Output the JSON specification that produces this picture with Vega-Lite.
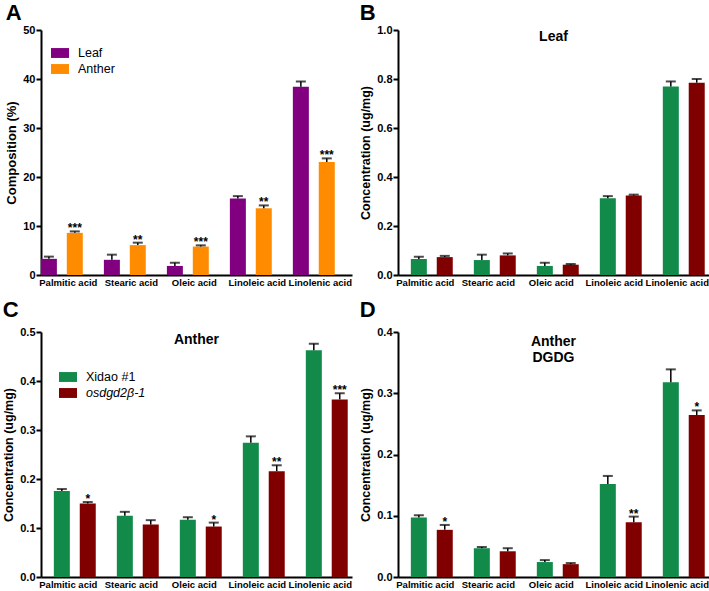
{
  "$schema": "https://vega.github.io/schema/vega-lite/v6.json",
  "padding": {"left": 2, "top": 2, "right": 1, "bottom": 0},
  "background": "white",
  "config": {
    "font": "Liberation Sans",
    "view": {"stroke": null},
    "axis": {"grid": false, "domainColor": "black", "domainWidth": 2, "tickColor": "black", "tickWidth": 2, "labelColor": "black", "titleColor": "black", "labelFontWeight": "bold", "titleFontWeight": "bold"},
    "legend": {"labelColor": "black"}
  },
  "resolve": {"scale": {"color": "independent"}, "legend": {"color": "independent"}},
  "datasets": {
    "A": [
      {"acid": "Palmitic acid", "group": "Leaf", "value": 3.3, "upper": 3.75, "sig": ""},
      {"acid": "Palmitic acid", "group": "Anther", "value": 8.6, "upper": 8.9, "sig": "***"},
      {"acid": "Stearic acid", "group": "Leaf", "value": 3.1, "upper": 4.15, "sig": ""},
      {"acid": "Stearic acid", "group": "Anther", "value": 6.1, "upper": 6.6, "sig": "**"},
      {"acid": "Oleic acid", "group": "Leaf", "value": 1.85, "upper": 2.5, "sig": ""},
      {"acid": "Oleic acid", "group": "Anther", "value": 5.8, "upper": 6.05, "sig": "***"},
      {"acid": "Linoleic acid", "group": "Leaf", "value": 15.6, "upper": 16.1, "sig": ""},
      {"acid": "Linoleic acid", "group": "Anther", "value": 13.6, "upper": 14.2, "sig": "**"},
      {"acid": "Linolenic acid", "group": "Leaf", "value": 38.4, "upper": 39.5, "sig": ""},
      {"acid": "Linolenic acid", "group": "Anther", "value": 23.05, "upper": 23.8, "sig": "***"}
    ],
    "B": [
      {"acid": "Palmitic acid", "group": "Xidao #1", "value": 0.065, "upper": 0.075, "sig": ""},
      {"acid": "Palmitic acid", "group": "osdgd2β-1", "value": 0.073, "upper": 0.078, "sig": ""},
      {"acid": "Stearic acid", "group": "Xidao #1", "value": 0.061, "upper": 0.083, "sig": ""},
      {"acid": "Stearic acid", "group": "osdgd2β-1", "value": 0.08, "upper": 0.088, "sig": ""},
      {"acid": "Oleic acid", "group": "Xidao #1", "value": 0.037, "upper": 0.05, "sig": ""},
      {"acid": "Oleic acid", "group": "osdgd2β-1", "value": 0.042, "upper": 0.045, "sig": ""},
      {"acid": "Linoleic acid", "group": "Xidao #1", "value": 0.313, "upper": 0.322, "sig": ""},
      {"acid": "Linoleic acid", "group": "osdgd2β-1", "value": 0.324, "upper": 0.328, "sig": ""},
      {"acid": "Linolenic acid", "group": "Xidao #1", "value": 0.769, "upper": 0.79, "sig": ""},
      {"acid": "Linolenic acid", "group": "osdgd2β-1", "value": 0.785, "upper": 0.8, "sig": ""}
    ],
    "C": [
      {"acid": "Palmitic acid", "group": "Xidao #1", "value": 0.1755, "upper": 0.1795, "sig": ""},
      {"acid": "Palmitic acid", "group": "osdgd2β-1", "value": 0.15, "upper": 0.153, "sig": "*"},
      {"acid": "Stearic acid", "group": "Xidao #1", "value": 0.125, "upper": 0.133, "sig": ""},
      {"acid": "Stearic acid", "group": "osdgd2β-1", "value": 0.107, "upper": 0.116, "sig": ""},
      {"acid": "Oleic acid", "group": "Xidao #1", "value": 0.117, "upper": 0.122, "sig": ""},
      {"acid": "Oleic acid", "group": "osdgd2β-1", "value": 0.103, "upper": 0.111, "sig": "*"},
      {"acid": "Linoleic acid", "group": "Xidao #1", "value": 0.274, "upper": 0.287, "sig": ""},
      {"acid": "Linoleic acid", "group": "osdgd2β-1", "value": 0.216, "upper": 0.228, "sig": "**"},
      {"acid": "Linolenic acid", "group": "Xidao #1", "value": 0.463, "upper": 0.476, "sig": ""},
      {"acid": "Linolenic acid", "group": "osdgd2β-1", "value": 0.3625, "upper": 0.375, "sig": "***"}
    ],
    "D": [
      {"acid": "Palmitic acid", "group": "Xidao #1", "value": 0.097, "upper": 0.101, "sig": ""},
      {"acid": "Palmitic acid", "group": "osdgd2β-1", "value": 0.077, "upper": 0.085, "sig": "*"},
      {"acid": "Stearic acid", "group": "Xidao #1", "value": 0.047, "upper": 0.049, "sig": ""},
      {"acid": "Stearic acid", "group": "osdgd2β-1", "value": 0.042, "upper": 0.047, "sig": ""},
      {"acid": "Oleic acid", "group": "Xidao #1", "value": 0.0244, "upper": 0.0276, "sig": ""},
      {"acid": "Oleic acid", "group": "osdgd2β-1", "value": 0.021, "upper": 0.0228, "sig": ""},
      {"acid": "Linoleic acid", "group": "Xidao #1", "value": 0.152, "upper": 0.165, "sig": ""},
      {"acid": "Linoleic acid", "group": "osdgd2β-1", "value": 0.0894, "upper": 0.0986, "sig": "**"},
      {"acid": "Linolenic acid", "group": "Xidao #1", "value": 0.318, "upper": 0.339, "sig": ""},
      {"acid": "Linolenic acid", "group": "osdgd2β-1", "value": 0.2645, "upper": 0.272, "sig": "*"}
    ]
  },
  "columns": 2,
  "spacing": {"row": 12, "column": 7},
  "concat": [
    {
      "title": {"text": "A", "anchor": "start", "frame": "bounds", "fontSize": 22, "fontWeight": "bold", "offset": -1, "color": "black"},
      "vconcat": [
        {
          "width": 311, "height": 245,
          "data": {"name": "A"},
          "encoding": {
            "x": {"field": "acid", "type": "nominal", "sort": ["Palmitic acid", "Stearic acid", "Oleic acid", "Linoleic acid", "Linolenic acid"], "scale": {"paddingInner": 0.237, "paddingOuter": 0.087, "align": 0.3}, "axis": {"title": null, "labelAngle": 0, "ticks": false, "labelFontSize": 9.5, "labelPadding": 2, "labelOverlap": false}},
            "xOffset": {"field": "group", "type": "nominal", "sort": ["Leaf", "Anther"], "scale": {"paddingInner": 0.29, "paddingOuter": 0}}
          },
          "layer": [
            {"mark": {"type": "bar", "width": 16}, "encoding": {
              "y": {"field": "value", "type": "quantitative", "scale": {"domain": [0, 50], "nice": false}, "axis": {"title": "Composition (%)", "values": [0, 10, 20, 30, 40, 50], "format": "d", "tickSize": 5, "labelFontSize": 11, "labelPadding": 1, "titleFontSize": 13, "titlePadding": 4}},
              "color": {"field": "group", "type": "nominal", "sort": ["Leaf", "Anther"], "scale": {"domain": ["Leaf", "Anther"], "range": ["#800080", "#FF8C00"]}, "legend": {"title": null, "orient": "none", "legendX": 10, "legendY": 14, "padding": 0, "labelFontSize": 12.5, "labelFontWeight": "normal", "symbolType": "M-1,-0.55H1V0.55H-1Z", "symbolSize": 324, "symbolStrokeWidth": 0, "labelOffset": 9, "rowPadding": 0}}
            }},
            {"mark": {"type": "rule", "color": "black", "strokeWidth": 1.5}, "encoding": {"y": {"field": "value", "type": "quantitative"}, "y2": {"field": "upper"}}},
            {"mark": {"type": "tick", "color": "black", "thickness": 2, "size": 10}, "encoding": {"y": {"field": "upper", "type": "quantitative"}}},
            {"mark": {"type": "text", "fontWeight": "bold", "fontSize": 12, "baseline": "alphabetic", "dy": 1, "color": "black"}, "encoding": {"y": {"field": "upper", "type": "quantitative"}, "text": {"field": "sig"}}}
          ]
        }
      ]
    },
    {
      "title": {"text": "B", "anchor": "start", "frame": "bounds", "fontSize": 22, "fontWeight": "bold", "offset": -1, "color": "black"},
      "vconcat": [
        {
          "width": 311, "height": 245,
          "title": {"text": "Leaf", "anchor": "middle", "frame": "group", "fontSize": 14, "fontWeight": "bold", "offset": -20, "color": "black"},
          "data": {"name": "B"},
          "encoding": {
            "x": {"field": "acid", "type": "nominal", "sort": ["Palmitic acid", "Stearic acid", "Oleic acid", "Linoleic acid", "Linolenic acid"], "scale": {"paddingInner": 0.237, "paddingOuter": 0.087, "align": 0.3}, "axis": {"title": null, "labelAngle": 0, "ticks": false, "labelFontSize": 9.5, "labelPadding": 2, "labelOverlap": false}},
            "xOffset": {"field": "group", "type": "nominal", "sort": ["Xidao #1", "osdgd2β-1"], "scale": {"paddingInner": 0.29, "paddingOuter": 0}}
          },
          "layer": [
            {"mark": {"type": "bar", "width": 16}, "encoding": {
              "y": {"field": "value", "type": "quantitative", "scale": {"domain": [0, 1], "nice": false}, "axis": {"title": "Concentration (ug/mg)", "values": [0, 0.2, 0.4, 0.6, 0.8, 1.0], "format": ".1f", "tickSize": 5, "labelFontSize": 11, "labelPadding": 1, "titleFontSize": 12.5, "titlePadding": 4}},
              "color": {"field": "group", "type": "nominal", "scale": {"domain": ["Xidao #1", "osdgd2β-1"], "range": ["#118A4A", "#800000"]}, "legend": null}
            }},
            {"mark": {"type": "rule", "color": "black", "strokeWidth": 1.5}, "encoding": {"y": {"field": "value", "type": "quantitative"}, "y2": {"field": "upper"}}},
            {"mark": {"type": "tick", "color": "black", "thickness": 2, "size": 10}, "encoding": {"y": {"field": "upper", "type": "quantitative"}}}
          ]
        }
      ]
    },
    {
      "title": {"text": "C", "anchor": "start", "frame": "bounds", "fontSize": 22, "fontWeight": "bold", "offset": 4, "color": "black"},
      "vconcat": [
        {
          "width": 311, "height": 245,
          "title": {"text": "Anther", "anchor": "middle", "frame": "group", "fontSize": 14, "fontWeight": "bold", "offset": -21, "color": "black"},
          "data": {"name": "C"},
          "encoding": {
            "x": {"field": "acid", "type": "nominal", "sort": ["Palmitic acid", "Stearic acid", "Oleic acid", "Linoleic acid", "Linolenic acid"], "scale": {"paddingInner": 0.237, "paddingOuter": 0.087, "align": 0.3}, "axis": {"title": null, "labelAngle": 0, "ticks": false, "labelFontSize": 9.5, "labelPadding": 2, "labelOverlap": false}},
            "xOffset": {"field": "group", "type": "nominal", "sort": ["Xidao #1", "osdgd2β-1"], "scale": {"paddingInner": 0.29, "paddingOuter": 0}}
          },
          "layer": [
            {"mark": {"type": "bar", "width": 16}, "encoding": {
              "y": {"field": "value", "type": "quantitative", "scale": {"domain": [0, 0.5], "nice": false}, "axis": {"title": "Concentration (ug/mg)", "values": [0, 0.1, 0.2, 0.3, 0.4, 0.5], "format": ".1f", "tickSize": 5, "labelFontSize": 11, "labelPadding": 1, "titleFontSize": 12.5, "titlePadding": 4}},
              "color": {"field": "group", "type": "nominal", "sort": ["Xidao #1", "osdgd2β-1"], "scale": {"domain": ["Xidao #1", "osdgd2β-1"], "range": ["#118A4A", "#800000"]}, "legend": {"title": null, "orient": "none", "legendX": 18, "legendY": 36, "padding": 0, "labelFontSize": 12.5, "labelFontWeight": "normal", "labelFontStyle": {"expr": "datum.label == 'osdgd2β-1' ? 'italic' : 'normal'"}, "symbolType": "M-1,-0.55H1V0.55H-1Z", "symbolSize": 324, "symbolStrokeWidth": 0, "labelOffset": 9, "rowPadding": 0}}
            }},
            {"mark": {"type": "rule", "color": "black", "strokeWidth": 1.5}, "encoding": {"y": {"field": "value", "type": "quantitative"}, "y2": {"field": "upper"}}},
            {"mark": {"type": "tick", "color": "black", "thickness": 2, "size": 10}, "encoding": {"y": {"field": "upper", "type": "quantitative"}}},
            {"mark": {"type": "text", "fontWeight": "bold", "fontSize": 12, "baseline": "alphabetic", "dy": 1, "color": "black"}, "encoding": {"y": {"field": "upper", "type": "quantitative"}, "text": {"field": "sig"}}}
          ]
        }
      ]
    },
    {
      "title": {"text": "D", "anchor": "start", "frame": "bounds", "fontSize": 22, "fontWeight": "bold", "offset": 4, "color": "black"},
      "vconcat": [
        {
          "width": 311, "height": 245,
          "title": {"text": ["Anther", "DGDG"], "anchor": "middle", "frame": "group", "fontSize": 14, "fontWeight": "bold", "offset": -39, "lineHeight": 16, "color": "black"},
          "data": {"name": "D"},
          "encoding": {
            "x": {"field": "acid", "type": "nominal", "sort": ["Palmitic acid", "Stearic acid", "Oleic acid", "Linoleic acid", "Linolenic acid"], "scale": {"paddingInner": 0.237, "paddingOuter": 0.087, "align": 0.3}, "axis": {"title": null, "labelAngle": 0, "ticks": false, "labelFontSize": 9.5, "labelPadding": 2, "labelOverlap": false}},
            "xOffset": {"field": "group", "type": "nominal", "sort": ["Xidao #1", "osdgd2β-1"], "scale": {"paddingInner": 0.29, "paddingOuter": 0}}
          },
          "layer": [
            {"mark": {"type": "bar", "width": 16}, "encoding": {
              "y": {"field": "value", "type": "quantitative", "scale": {"domain": [0, 0.4], "nice": false}, "axis": {"title": "Concentration (ug/mg)", "values": [0, 0.1, 0.2, 0.3, 0.4], "format": ".1f", "tickSize": 5, "labelFontSize": 11, "labelPadding": 1, "titleFontSize": 12.5, "titlePadding": 4}},
              "color": {"field": "group", "type": "nominal", "scale": {"domain": ["Xidao #1", "osdgd2β-1"], "range": ["#118A4A", "#800000"]}, "legend": null}
            }},
            {"mark": {"type": "rule", "color": "black", "strokeWidth": 1.5}, "encoding": {"y": {"field": "value", "type": "quantitative"}, "y2": {"field": "upper"}}},
            {"mark": {"type": "tick", "color": "black", "thickness": 2, "size": 10}, "encoding": {"y": {"field": "upper", "type": "quantitative"}}},
            {"mark": {"type": "text", "fontWeight": "bold", "fontSize": 12, "baseline": "alphabetic", "dy": 1, "color": "black"}, "encoding": {"y": {"field": "upper", "type": "quantitative"}, "text": {"field": "sig"}}}
          ]
        }
      ]
    }
  ]
}
